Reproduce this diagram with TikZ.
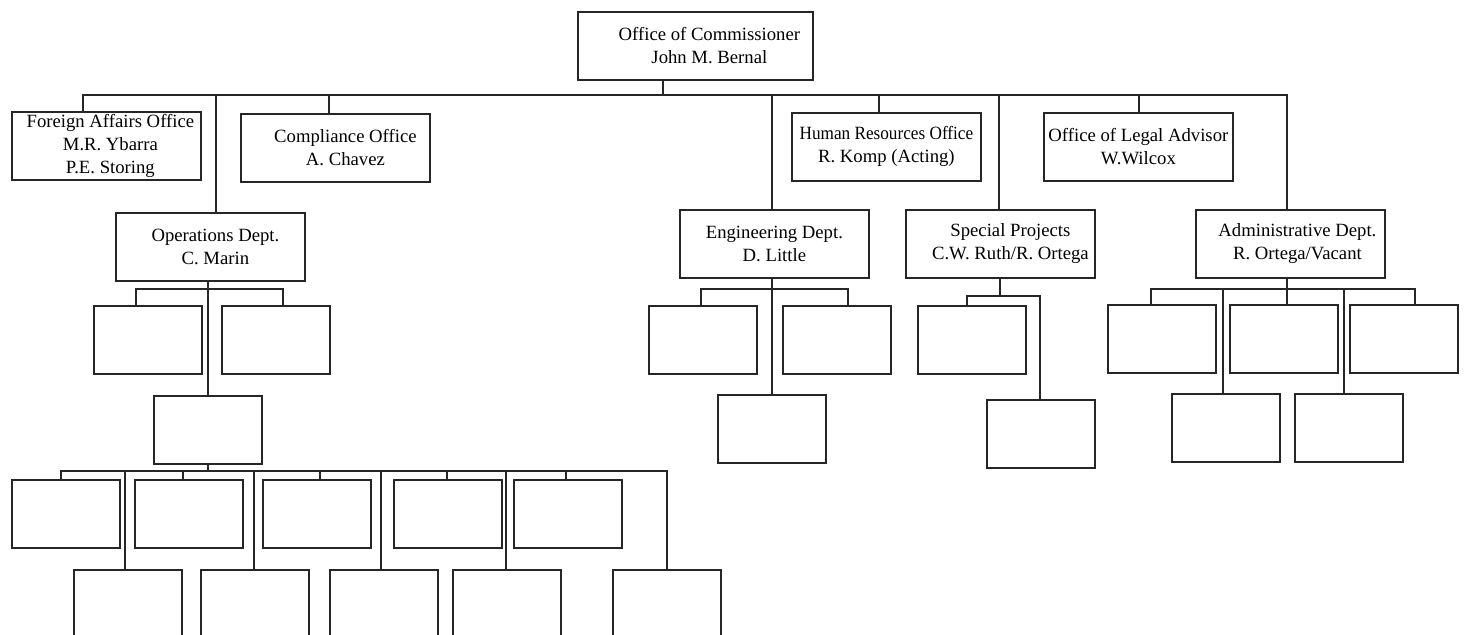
\documentclass[tikz,border=0pt]{standalone}
\usepackage{fontspec}
\setmainfont{Liberation Serif}
\newfontfamily\condserif[FakeStretch=0.92]{Liberation Serif}
\begin{document}
\begin{tikzpicture}[x=0.5pt,y=-0.5pt,
  box/.style={draw=black!85, line width=0.9pt, inner sep=0pt, align=center, anchor=north west,
    font=\fontsize{9.35}{11.5}\selectfont},
  big/.style={box, minimum width=94.5pt, minimum height=34pt},
  small/.style={box, minimum width=54pt, minimum height=34pt},
  tall/.style={box, minimum width=54pt, minimum height=70pt},
  conn/.style={draw=black!85, line width=0.9pt}]
\useasboundingbox (0,0) rectangle (1467,634);
\clip (0,0) rectangle (1467,634);
\fill[white] (0,0) rectangle (1467,634);

% top level
\node[box, minimum width=117.5pt, minimum height=34pt] (comm) at (577,11) {\hspace*{14pt}Office of Commissioner\\\hspace*{14pt}John M. Bernal};
\node[big] (fao) at (11,111) {\hspace*{4pt}Foreign Affairs Office\\\hspace*{4pt}M.R. Ybarra\\\hspace*{4pt}P.E. Storing};
\node[big] (comp) at (240,113) {\hspace*{10pt}Compliance Office\\\hspace*{10pt}A. Chavez};
\node[big] (hr) at (791,112) {{\condserif Human Resources Office}\\R. Komp (Acting)};
\node[big] (legal) at (1043,112) {Office of Legal Advisor\\W.Wilcox};
\node[big] (ops) at (115,212) {\hspace*{5pt}Operations Dept.\\\hspace*{5pt}C. Marin};
\node[big] (eng) at (679,209) {Engineering Dept.\\D. Little};
\node[big] (spec) at (905,209) {\hspace*{10pt}Special Projects\\\hspace*{10pt}C.W. Ruth/R. Ortega};
\node[big] (admin) at (1195,209) {\hspace*{7pt}Administrative Dept.\\\hspace*{7pt}R. Ortega/Vacant};

% operations subtree
\node[small] (o1) at (93,305) {};
\node[small] (o2) at (221,305) {};
\node[small] (o3) at (153,395) {};
\node[small] (b1) at (11,479) {};
\node[small] (b2) at (134,479) {};
\node[small] (b3) at (262,479) {};
\node[small] (b4) at (393,479) {};
\node[small] (b5) at (513,479) {};
\node[tall] (c1) at (73,569) {};
\node[tall] (c2) at (200,569) {};
\node[tall] (c3) at (329,569) {};
\node[tall] (c4) at (452,569) {};
\node[tall] (c5) at (612,569) {};

% engineering subtree
\node[small] (e1) at (648,305) {};
\node[small] (e2) at (782,305) {};
\node[small] (e3) at (717,394) {};

% special projects subtree
\node[small] (s1) at (917,305) {};
\node[small] (s2) at (986,399) {};

% administrative subtree
\node[small] (a1) at (1107,304) {};
\node[small] (a2) at (1229,304) {};
\node[small] (a3) at (1349,304) {};
\node[small] (a4) at (1171,393) {};
\node[small] (a5) at (1294,393) {};

% ---- connectors, level 0
\coordinate (t0) at (663,95);
\coordinate (tfa) at (83,95);
\coordinate (tops) at (216,95);
\coordinate (tcp) at (329,95);
\coordinate (ten) at (772,95);
\coordinate (thr) at (879,95);
\coordinate (tsp) at (999,95);
\coordinate (tlg) at (1139,95);
\coordinate (tad) at (1287,95);
\draw[conn] (comm.south -| t0) -- (t0);
\draw[conn] (fao.north -| tfa) -- (tfa) -- (tad) -- (tad |- admin.north);
\draw[conn] (tops) -- (tops |- ops.north);
\draw[conn] (tcp) -- (tcp |- comp.north);
\draw[conn] (ten) -- (ten |- eng.north);
\draw[conn] (thr) -- (thr |- hr.north);
\draw[conn] (tsp) -- (tsp |- spec.north);
\draw[conn] (tlg) -- (tlg |- legal.north);

% ---- operations
\coordinate (q1) at (136,289);
\coordinate (q2) at (283,289);
\draw[conn] (o3.north |- ops.south) -- (o3.north);
\draw[conn] (o1.north -| q1) -- (q1) -- (q2) -- (o2.north -| q2);

\coordinate (r1) at (61,471);
\coordinate (r2) at (125,471);
\coordinate (r3) at (183,471);
\coordinate (r4) at (254,471);
\coordinate (r5) at (320,471);
\coordinate (r6) at (381,471);
\coordinate (r7) at (447,471);
\coordinate (r8) at (506,471);
\coordinate (r9) at (566,471);
\coordinate (r10) at (667,471);
\draw[conn] (o3.south) -- (o3.south |- r1);
\draw[conn] (b1.north -| r1) -- (r1) -- (r10) -- (c5.north -| r10);
\draw[conn] (r2) -- (c1.north -| r2);
\draw[conn] (r3) -- (b2.north -| r3);
\draw[conn] (r4) -- (c2.north -| r4);
\draw[conn] (r5) -- (b3.north -| r5);
\draw[conn] (r6) -- (c3.north -| r6);
\draw[conn] (r7) -- (b4.north -| r7);
\draw[conn] (r8) -- (c4.north -| r8);
\draw[conn] (r9) -- (b5.north -| r9);

% ---- engineering
\coordinate (g1) at (701,289);
\coordinate (g2) at (848,289);
\draw[conn] (e3.north |- eng.south) -- (e3.north);
\draw[conn] (e1.north -| g1) -- (g1) -- (g2) -- (e2.north -| g2);

% ---- special projects
\coordinate (p0) at (1000,296);
\coordinate (p1) at (967,296);
\coordinate (p2) at (1040,296);
\draw[conn] (spec.south -| p0) -- (p0);
\draw[conn] (s1.north -| p1) -- (p1) -- (p2) -- (s2.north -| p2);

% ---- administrative
\coordinate (d0) at (1287,289);
\coordinate (d1) at (1151,289);
\coordinate (d3) at (1415,289);
\coordinate (d4) at (1223,289);
\coordinate (d5) at (1344,289);
\draw[conn] (admin.south -| d0) -- (a2.north -| d0);
\draw[conn] (a1.north -| d1) -- (d1) -- (d3) -- (a3.north -| d3);
\draw[conn] (d4) -- (a4.north -| d4);
\draw[conn] (d5) -- (a5.north -| d5);
\end{tikzpicture}
\end{document}
